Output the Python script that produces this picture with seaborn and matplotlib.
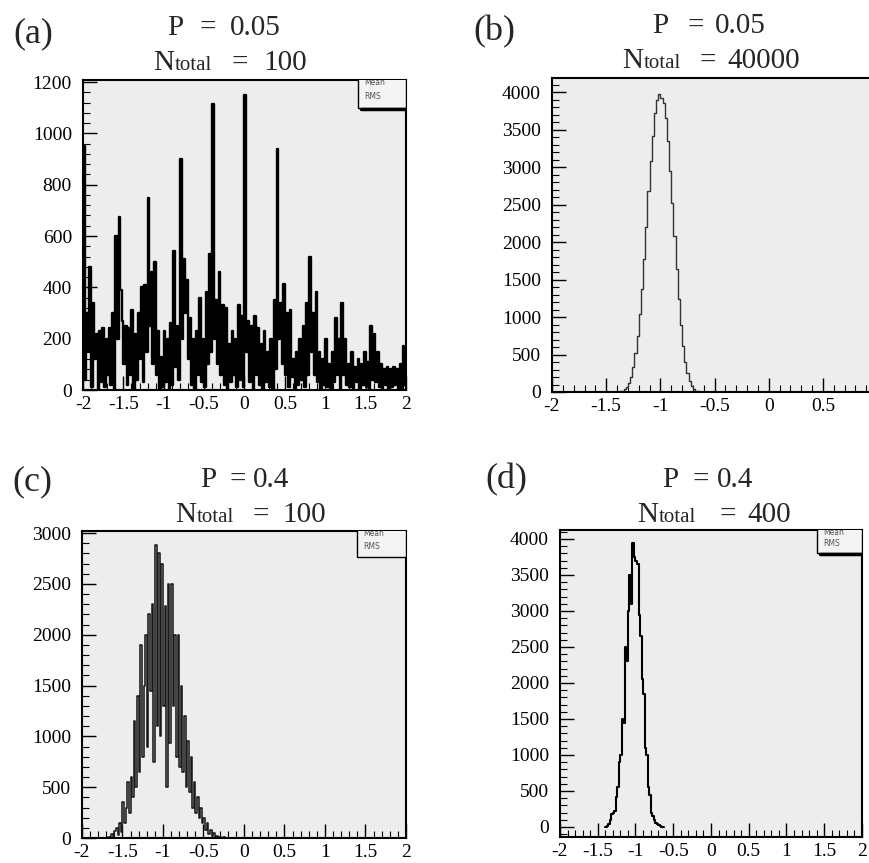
import numpy as np
import matplotlib
matplotlib.use("Agg")
import matplotlib.pyplot as plt
import seaborn as sns
from matplotlib.ticker import MultipleLocator, FuncFormatter
from matplotlib.patches import Rectangle
from matplotlib.lines import Line2D

sns.set_style("white")
plt.rcParams["font.family"] = ["Liberation Serif", "DejaVu Serif"]
plt.rcParams["axes.unicode_minus"] = False

W, H = 870, 863

# ---------------- data ----------------
bin_edges = np.round(np.linspace(-2.0, 2.0, 201), 3)
bin_centers = (bin_edges[:-1] + bin_edges[1:]) / 2

# panel (a): comb-like histogram, pairs of bins (upper value, lower value) every 0.04
a_highs = [
    950, 300, 480, 340, 220, 230, 240, 200, 240, 300,
    600, 675, 270, 250, 240, 310, 220, 300, 400, 410,
    750, 460, 500, 230, 130, 230, 200, 260, 540, 250,
    900, 510, 430, 280, 200, 230, 360, 200, 380, 530,
    1115, 350, 460, 330, 320, 180, 230, 200, 330, 290,
    1150, 270, 250, 290, 240, 180, 230, 150, 200, 350,
    940, 340, 415, 300, 310, 120, 150, 200, 250, 340,
    520, 300, 380, 150, 120, 200, 100, 150, 280, 200,
    340, 200, 100, 150, 90, 120, 100, 150, 110, 250,
    220, 150, 100, 80, 90, 80, 90, 80, 100, 170,
]
a_lows = [
    40, 150, 10, 120, 0, 30, 10, 60, 20, 0,
    200, 390, 100, 20, 60, 0, 40, 120, 30, 150,
    250, 100, 60, 0, 10, 30, 0, 20, 90, 40,
    200, 300, 120, 20, 0, 60, 30, 10, 100, 150,
    200, 100, 60, 20, 0, 30, 60, 10, 40, 10,
    150, 30, 0, 60, 20, 0, 30, 10, 0, 80,
    200, 100, 60, 10, 50, 0, 20, 40, 10, 60,
    150, 60, 30, 0, 20, 10, 0, 30, 60, 0,
    60, 20, 10, 0, 30, 0, 20, 10, 0, 40,
    30, 10, 0, 20, 0, 10, 20, 0, 0, 20,
]
a_counts = [v for pair in zip(a_highs, a_lows) for v in pair]

# panel (b): bins from -1.40 to -0.60
b_core = [5, 10, 20, 40, 70, 120, 200, 330, 520, 750,
          1040, 1380, 1780, 2200, 2680, 3080, 3420, 3720, 3900, 3980,
          3920, 3850, 3650, 3350, 2950, 2520, 2080, 1640, 1240, 900,
          620, 400, 250, 150, 80, 40, 20, 8, 3, 0]
b_counts = [0] * 30 + b_core + [0] * (200 - 30 - len(b_core))

# panel (c): bins from -1.70 to -0.24
c_core = [0, 10, 0, 40, 10, 70, 100, 30, 150, 60,
          350, 150, 300, 550, 250, 600, 400, 1150, 500, 1400,
          650, 1900, 800, 1500, 2000, 900, 2200, 1450, 2300, 750,
          2880, 1100, 2800, 1000, 2700, 1300, 2280, 500, 2500, 930,
          2500, 1300, 2000, 800, 2000, 700, 1500, 650, 1200, 500,
          950, 450, 800, 300, 550, 250, 400, 200, 300, 150,
          200, 80, 150, 40, 80, 20, 50, 10, 20, 5,
          10, 0, 5]
c_counts = [0] * 15 + c_core + [0] * (200 - 15 - len(c_core))

# panel (d): bins from -1.40 to -0.64
d_core = [0, 10, 40, 100, 180, 200, 220, 420, 550, 900,
          1000, 1500, 1450, 2500, 2300, 3000, 3500, 3100, 3950, 3750,
          3700, 3650, 2950, 2650, 2050, 1850, 1100, 1000, 550, 450,
          200, 150, 100, 60, 40, 30, 10, 5]
d_counts = [0] * 30 + d_core + [0] * (200 - 30 - len(d_core))

panel_letters = ["(a)", "(b)", "(c)", "(d)"]
p_values = ["0.05", "0.05", "0.4", "0.4"]
n_totals = ["100", "40000", "100", "400"]

# ---------------- figure ----------------
fig = plt.figure(figsize=(W / 100, H / 100), dpi=100)
fig.patch.set_facecolor("white")


def add_axes_px(left, top, right, bottom):
    return fig.add_axes([left / W, 1 - bottom / H, (right - left) / W, (bottom - top) / H])


def ftext(x, y, s, size, **kw):
    return fig.text(x / W, 1 - y / H, s, fontsize=size, ha="left", va="baseline", **kw)


fmt = FuncFormatter(lambda v, p: f"{round(v, 3) + 0.0:g}")


def style_axes(ax, xlim, ylim, ymaj, ymin, hide_right=False):
    ax.set_xlim(*xlim)
    ax.set_ylim(*ylim)
    ax.set_facecolor("#ededed")
    ax.set_xlabel("")
    ax.set_ylabel("")
    ax.xaxis.set_major_locator(MultipleLocator(0.5))
    ax.xaxis.set_minor_locator(MultipleLocator(0.1))
    ax.yaxis.set_major_locator(MultipleLocator(ymaj))
    ax.yaxis.set_minor_locator(MultipleLocator(ymin))
    ax.xaxis.set_major_formatter(fmt)
    ax.yaxis.set_major_formatter(fmt)
    ax.tick_params(which="both", direction="in", top=False, right=False,
                   bottom=True, left=True, labelsize=14, colors="black")
    ax.tick_params(which="major", length=10, width=1.0)
    ax.tick_params(which="minor", length=5, width=0.8)
    ax.tick_params(axis="x", which="major", pad=4)
    ax.tick_params(axis="y", which="major", pad=8)
    for name, sp in ax.spines.items():
        sp.set_color("black")
        sp.set_linewidth(1.5)
        sp.set_visible(True)
    if hide_right:
        ax.spines["right"].set_visible(False)


def draw_hist(ax, counts, color, lw, trim=False):
    counts = np.asarray(counts, dtype=float)
    if trim:
        nz = np.nonzero(counts)[0]
        i0, i1 = max(nz[0] - 1, 0), min(nz[-1] + 2, len(counts))
    else:
        i0, i1 = 0, len(counts)
    x = bin_centers[i0:i1]
    w = counts[i0:i1]
    bins = [float(b) for b in bin_edges[i0:i1 + 1]]
    sns.histplot(x=x, weights=w, bins=bins, element="step", fill=False,
                 color=color, linewidth=lw, ax=ax)


def stats_box(ax, x0, y0, shadow=False):
    ax.add_patch(Rectangle((x0, y0), 1 - x0, 1.05 - y0, transform=ax.transAxes,
                           facecolor="#f4f4f4", edgecolor="black", linewidth=1.0,
                           clip_on=True, zorder=5))
    if shadow:
        ax.add_line(Line2D([x0 + 0.01, 1.0], [y0 - 0.004, y0 - 0.004], transform=ax.transAxes,
                           color="black", linewidth=2.5, zorder=6))
    ax.text(x0 + 0.02, 0.993, "Mean", transform=ax.transAxes, fontsize=5.5,
            family="DejaVu Sans", color="#555555", va="center", ha="left",
            clip_on=True, zorder=7)
    ax.text(x0 + 0.02, (1 + y0) / 2 - 0.008, "RMS", transform=ax.transAxes, fontsize=5.5,
            family="DejaVu Sans", color="#555555", va="center", ha="left", zorder=7)


# ---- panel (a)
ax_a = add_axes_px(83, 80, 406, 390)
draw_hist(ax_a, a_counts, "black", 1.7)
style_axes(ax_a, (-2, 2), (0, 1208), 200, 40)
stats_box(ax_a, 0.851, 0.91, shadow=True)

# ---- panel (b)
ax_b = add_axes_px(552, 78, 870, 392)
draw_hist(ax_b, b_counts, "#333333", 1.0)
style_axes(ax_b, (-2, 0.935), (0, 4190), 500, 100, hide_right=True)

# ---- panel (c)
ax_c = add_axes_px(82, 531, 406, 838)
draw_hist(ax_c, c_counts, "#1a1a1a", 1.15)
style_axes(ax_c, (-2, 2), (0, 3020), 500, 100)
stats_box(ax_c, 0.849, 0.915)

# ---- panel (d)
ax_d = add_axes_px(560, 530, 862, 837)
draw_hist(ax_d, d_counts, "black", 1.5, trim=True)
style_axes(ax_d, (-2, 2), (-140, 4125), 500, 100)
stats_box(ax_d, 0.851, 0.925, shadow=True)

# ---------------- titles ----------------
BIG, SMALL, LETTER = 21, 15, 26

title_pos = [
    dict(L=(13, 42), P=(167, 35), Peq=200, Pv=230, N=(153, 70), Neq=232, Nv=263),
    dict(L=(473, 40), P=(652, 33), Peq=688, Pv=715, N=(622, 68), Neq=700, Nv=727),
    dict(L=(12, 490), P=(200, 487), Peq=230, Pv=253, N=(175, 522), Neq=253, Nv=282),
    dict(L=(485, 488), P=(662, 487), Peq=693, Pv=717, N=(637, 522), Neq=720, Nv=747),
]

fig.canvas.draw()
for i, tp in enumerate(title_pos):
    ftext(*tp["L"], panel_letters[i], LETTER)
    py = tp["P"][1]
    ftext(tp["P"][0], py, "P", BIG)
    ftext(tp["Peq"], py, "=", BIG)
    ftext(tp["Pv"], py, p_values[i], BIG)
    ny = tp["N"][1]
    tN = ftext(tp["N"][0], ny, "N", BIG)
    bb = tN.get_window_extent(renderer=fig.canvas.get_renderer())
    fig.text(bb.x1 / fig.bbox.width + 0.001, 1 - ny / H, "total", fontsize=SMALL,
             ha="left", va="baseline")
    ftext(tp["Neq"], ny, "=", BIG)
    ftext(tp["Nv"], ny, n_totals[i], BIG)

fig.savefig("out.png", dpi=100, facecolor="white")
